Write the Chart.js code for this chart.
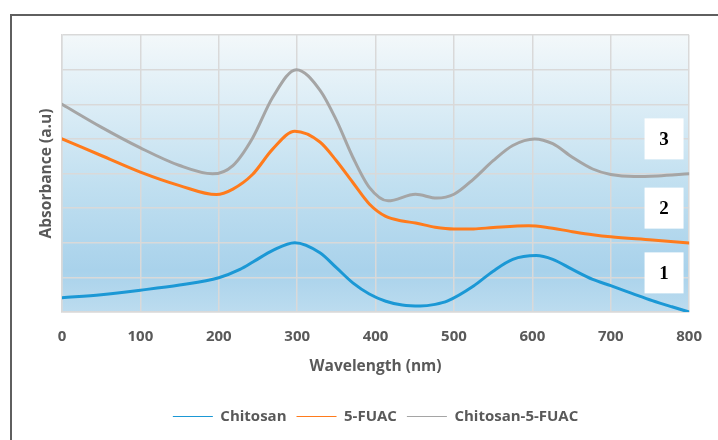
<!DOCTYPE html>
<html>
<head>
<meta charset="utf-8">
<script src="https://cdn.jsdelivr.net/npm/chart.js@4.4.1/dist/chart.umd.min.js"></script>
<style>
  html, body { margin: 0; padding: 0; background: #fff; }
  #frame {
    position: absolute; left: 10px; top: 14px; width: 720px; height: 440px;
    border-left: 2px solid #5f5f5f; border-top: 2px solid #5f5f5f;
  }
  #wrap { position: absolute; left: 0; top: 0; width: 718px; height: 440px; }
</style>
</head>
<body>
<div id="frame"></div>
<div id="wrap"><canvas id="c" width="718" height="440"></canvas></div>
<script>
// wavelength (nm) / absorbance (a.u.) pairs
var chitosanX = [0, 50, 100, 150, 200, 227, 244, 269, 297, 329, 350, 371, 392, 413, 434, 457, 476, 492, 525, 550, 575, 605, 626, 651, 677, 700, 727, 753, 778, 800];
var chitosanY = [0.41, 0.5, 0.63, 0.78, 0.99, 1.23, 1.45, 1.78, 2.0, 1.71, 1.28, 0.84, 0.52, 0.31, 0.2, 0.17, 0.22, 0.32, 0.75, 1.18, 1.52, 1.63, 1.52, 1.23, 0.94, 0.76, 0.54, 0.33, 0.15, 0.0];

var fuacX = [0, 50, 100, 150, 197, 218, 243, 269, 297, 329, 350, 371, 392, 413, 434, 451, 476, 500, 525, 550, 595, 617, 651, 677, 700, 753, 800];
var fuacY = [5.0, 4.52, 4.04, 3.65, 3.39, 3.55, 3.97, 4.71, 5.22, 4.91, 4.37, 3.74, 3.12, 2.76, 2.63, 2.57, 2.45, 2.4, 2.4, 2.44, 2.49, 2.45, 2.32, 2.23, 2.17, 2.08, 1.99];

var compX = [0, 50, 100, 150, 192, 218, 243, 269, 299, 329, 350, 371, 392, 416, 451, 478, 500, 525, 550, 575, 603, 626, 651, 677, 700, 730, 760, 800];
var compY = [6.0, 5.34, 4.74, 4.23, 3.99, 4.23, 5.02, 6.21, 7.0, 6.41, 5.54, 4.47, 3.6, 3.21, 3.4, 3.29, 3.4, 3.84, 4.37, 4.81, 5.0, 4.86, 4.47, 4.13, 3.97, 3.91, 3.93, 3.99];

var seriesNames = ['Chitosan', '5-FUAC', 'Chitosan-5-FUAC'];
var seriesColors = ['#1b98d5', '#ff7b1c', '#a5a5a5'];

var xTicks = [0, 100, 200, 300, 400, 500, 600, 700, 800];

// curve labels: text, x (nm), y (a.u.)
var tagText = ['3', '2', '1'];
var tagX = [768, 768, 768];
var tagY = [5.0, 3.0, 1.13];

function pairs(xs, ys) {
  return xs.map(function (x, i) { return { x: x, y: ys[i] }; });
}

var plotBg = {
  id: 'plotBg',
  beforeDraw: function (chart) {
    var a = chart.chartArea, ctx = chart.ctx;
    var g = ctx.createLinearGradient(0, a.top, 0, a.bottom);
    g.addColorStop(0, '#f3f8fa');
    g.addColorStop(0.25, '#dcedf6');
    g.addColorStop(0.55, '#c0dff0');
    g.addColorStop(0.85, '#a9d2eb');
    g.addColorStop(1, '#bcdcef');
    ctx.save();
    ctx.fillStyle = g;
    ctx.fillRect(a.left, a.top, a.right - a.left, a.bottom - a.top);
    ctx.restore();
  }
};

var tags = {
  id: 'tags',
  afterDatasetsDraw: function (chart) {
    var ctx = chart.ctx, sx = chart.scales.x, sy = chart.scales.y;
    ctx.save();
    for (var i = 0; i < tagText.length; i++) {
      var cx = sx.getPixelForValue(tagX[i]);
      var cy = sy.getPixelForValue(tagY[i]);
      ctx.fillStyle = '#ffffff';
      ctx.fillRect(cx - 19.5, cy - 20.5, 39, 41);
      ctx.fillStyle = '#000000';
      ctx.font = 'bold 19px "Liberation Serif", "DejaVu Serif", serif';
      ctx.textAlign = 'center';
      ctx.textBaseline = 'middle';
      ctx.fillText(tagText[i], cx, cy + 1);
    }
    ctx.restore();
  }
};

Chart.defaults.font.family = "'Open Sans', sans-serif";
Chart.defaults.color = '#595959';

new Chart(document.getElementById('c'), {
  type: 'line',
  data: {
    datasets: [
      { label: seriesNames[0], data: pairs(chitosanX, chitosanY), borderColor: seriesColors[0], backgroundColor: seriesColors[0] },
      { label: seriesNames[1], data: pairs(fuacX, fuacY), borderColor: seriesColors[1], backgroundColor: seriesColors[1] },
      { label: seriesNames[2], data: pairs(compX, compY), borderColor: seriesColors[2], backgroundColor: seriesColors[2] }
    ]
  },
  options: {
    responsive: false,
    animation: false,
    layout: { padding: { left: 0, right: 24, top: 35, bottom: 6 } },
    elements: {
      point: { radius: 0 },
      line: { borderWidth: 3, cubicInterpolationMode: 'monotone', borderCapStyle: 'round' }
    },
    plugins: {
      tooltip: { enabled: false },
      legend: {
        position: 'bottom',
        fullSize: false,
        labels: {
          usePointStyle: true,
          pointStyle: 'line',
          pointStyleWidth: 40,
          padding: 10,
          color: '#595959',
          font: { size: 15, weight: 'bold' }
        }
      }
    },
    scales: {
      x: {
        type: 'linear',
        min: 0, max: 800,
        afterBuildTicks: function (s) { s.ticks = xTicks.map(function (v) { return { value: v }; }); },
        afterFit: function (s) { s.height = 87; },
        grid: { color: '#d9d9d9', lineWidth: 1.5, drawTicks: false },
        border: { color: '#d9d9d9', width: 1.5 },
        ticks: { padding: 16, color: '#595959', font: { size: 15, weight: 'bold' }, maxRotation: 0 },
        title: {
          display: true, text: 'Wavelength (nm)', color: '#595959',
          font: { size: 15.5, weight: 'bold' }, padding: { top: 0, bottom: 23 }
        }
      },
      y: {
        min: 0, max: 8,
        afterFit: function (s) { s.width = 62; },
        grid: { color: '#d9d9d9', lineWidth: 1.5, drawTicks: false },
        border: { color: '#d9d9d9', width: 1.5 },
        ticks: { stepSize: 1, display: false },
        title: {
          display: true, text: 'Absorbance (a.u)', color: '#595959',
          font: { size: 15.5, weight: 'bold' }, padding: { top: 37, bottom: 0 }
        }
      }
    }
  },
  plugins: [plotBg, tags]
});
</script>
</body>
</html>
